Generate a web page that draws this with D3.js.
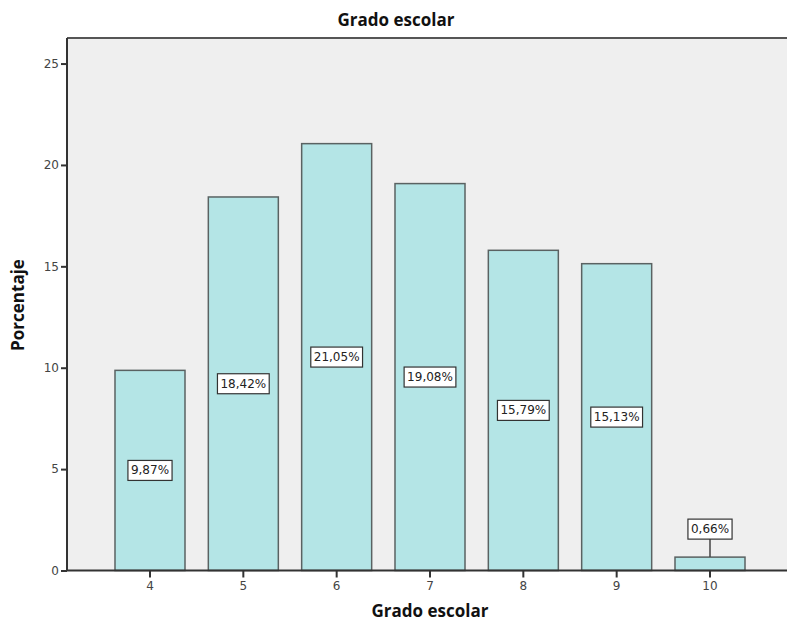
<!DOCTYPE html>
<html>
<head>
<meta charset="utf-8">
<script src="https://cdn.jsdelivr.net/npm/d3@7"></script>
<style>
  body { margin: 0; background: #fff; }
  svg { display: block; }
</style>
</head>
<body>
<svg id="chart" width="787" height="624"></svg>
<script>
// Distribución porcentual por grado escolar
const categories = ["4", "5", "6", "7", "8", "9", "10"];
const percentages = [9.87, 18.42, 21.05, 19.08, 15.79, 15.13, 0.66];
const yTicks = [0, 5, 10, 15, 20, 25];

const data = categories.map((c, i) => ({ cat: c, value: percentages[i] }));
const fmt = v => d3.format(".2f")(v).replace(".", ",") + "%";

const svg = d3.select("#chart");
const plot = { left: 67, right: 793, top: 38, bottom: 570.5 };
const font = "'DejaVu Sans', Verdana, sans-serif";

const x = d3.scaleBand()
  .domain(categories)
  .range([103.33, 756.67])
  .paddingInner(0.25)
  .paddingOuter(0.125);

const y = d3.scaleLinear()
  .domain([0, 26.26])
  .range([plot.bottom, plot.top]);

// Plot background and frame
svg.append("rect")
  .attr("x", plot.left).attr("y", plot.top)
  .attr("width", plot.right - plot.left).attr("height", plot.bottom - plot.top)
  .attr("fill", "#efefef");
svg.append("line")
  .attr("x1", plot.left).attr("x2", plot.right)
  .attr("y1", plot.top).attr("y2", plot.top)
  .attr("stroke", "#555").attr("stroke-width", 2);

// Bars
svg.append("g").selectAll("rect")
  .data(data).join("rect")
  .attr("x", d => x(d.cat))
  .attr("y", d => y(d.value))
  .attr("width", x.bandwidth())
  .attr("height", d => y(0) - y(d.value))
  .attr("fill", "#b4e5e6")
  .attr("stroke", "#5a6262")
  .attr("stroke-width", 1.5);

// Axes
const yAxis = svg.append("g")
  .attr("transform", `translate(${plot.left},0)`)
  .call(d3.axisLeft(y).tickValues(yTicks).tickSize(6).tickSizeOuter(0).tickPadding(2));
const xAxis = svg.append("g")
  .attr("transform", `translate(0,${plot.bottom})`)
  .call(d3.axisBottom(x).tickSize(7).tickSizeOuter(0).tickPadding(4));

[yAxis, xAxis].forEach(ax => {
  ax.select(".domain").attr("stroke", "#333").attr("stroke-width", 2);
  ax.selectAll(".tick line").attr("stroke", "#333").attr("stroke-width", 2);
  ax.selectAll(".tick text")
    .attr("font-family", font).attr("font-size", 12).attr("fill", "#444");
});
yAxis.select(".domain").attr("d", `M0,${plot.top}V${plot.bottom}`);
xAxis.select(".domain").attr("d", `M${plot.left},0H${plot.right}`);

// Value labels
const labels = svg.append("g");
data.forEach(d => {
  const cx = x(d.cat) + x.bandwidth() / 2;
  const barTop = y(d.value);
  const small = (y(0) - barTop) < 30;
  const cy = small ? barTop - 28 : (barTop + y(0)) / 2;
  const g = labels.append("g");
  if (small) {
    g.append("line")
      .attr("x1", cx).attr("x2", cx)
      .attr("y1", cy + 10).attr("y2", barTop)
      .attr("stroke", "#444").attr("stroke-width", 1.5);
  }
  const t = g.append("text")
    .attr("x", cx).attr("y", cy)
    .attr("text-anchor", "middle")
    .attr("dominant-baseline", "central")
    .attr("font-family", font).attr("font-size", 12)
    .attr("fill", "#222")
    .text(fmt(d.value));
  const bb = t.node().getBBox();
  g.insert("rect", "text")
    .attr("x", bb.x - 3).attr("y", cy - 10)
    .attr("width", bb.width + 6).attr("height", 20)
    .attr("fill", "#fff").attr("stroke", "#333").attr("stroke-width", 1.2);
});

// Titles
svg.append("text")
  .attr("x", 396).attr("y", 26)
  .attr("text-anchor", "middle")
  .attr("font-family", "'Open Sans', 'DejaVu Sans', sans-serif")
  .attr("font-weight", "bold").attr("font-size", 17).attr("fill", "#111")
  .text("Grado escolar");
svg.append("text")
  .attr("x", (plot.left + plot.right) / 2).attr("y", 617)
  .attr("text-anchor", "middle")
  .attr("font-family", "'Open Sans', 'DejaVu Sans', sans-serif")
  .attr("font-weight", "bold").attr("font-size", 17).attr("fill", "#111")
  .text("Grado escolar");
svg.append("text")
  .attr("transform", `translate(24,305) rotate(-90)`)
  .attr("text-anchor", "middle")
  .attr("font-family", "'Open Sans', 'DejaVu Sans', sans-serif")
  .attr("font-weight", "bold").attr("font-size", 17).attr("fill", "#111")
  .text("Porcentaje");
</script>
</body>
</html>
